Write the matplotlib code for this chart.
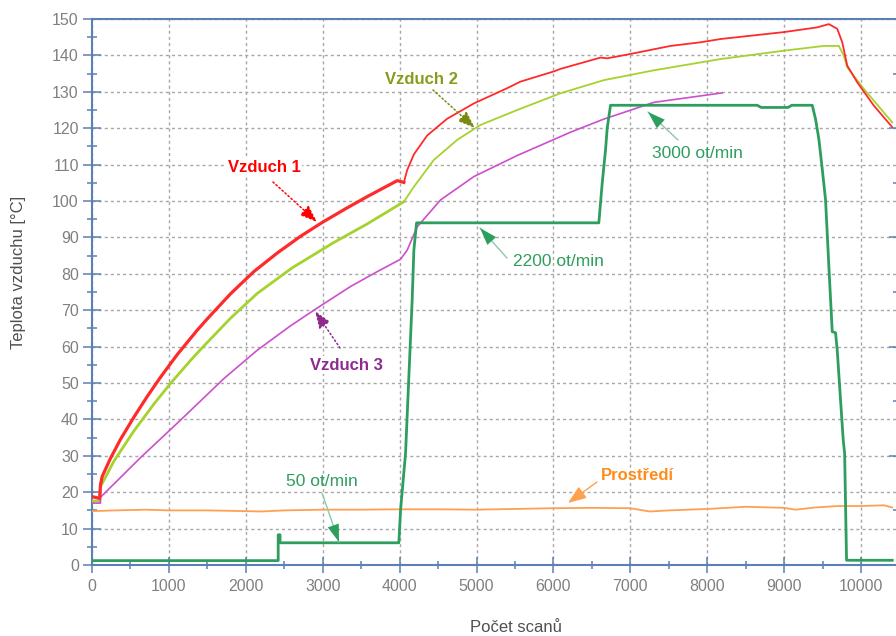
import matplotlib
matplotlib.use("Agg")
import matplotlib.pyplot as plt
from matplotlib.ticker import MultipleLocator

plt.rcParams['font.family'] = ['Liberation Sans', 'DejaVu Sans']

# ---------------- data ----------------
x_v1 = [0, 100, 110, 132, 240, 370, 544, 718, 891, 1108, 1368, 1498, 1801, 2104, 2408, 2711,
        3000, 3300, 3578, 3969, 4055, 4098, 4185, 4358, 4618, 4965, 5399, 5572, 6005, 6092,
        6612, 6699, 7002, 7522, 7913, 8173, 8996, 9430, 9581, 9690, 9755, 9820, 9950, 10166, 10405]
y_v1 = [18.8, 18.3, 22.0, 24.3, 29.3, 34.5, 40.6, 46.3, 51.6, 57.8, 64.5, 67.6, 74.5, 80.6, 85.7, 90.3,
        94.2, 97.9, 101.2, 105.6, 105.1, 108.5, 112.8, 118.0, 122.6, 126.8, 131.0, 132.8, 135.6, 136.3,
        139.4, 139.2, 140.4, 142.6, 143.6, 144.5, 146.4, 147.7, 148.6, 147.3, 143.6, 137.2, 132.6, 126.2, 120.3]
v1_split = 4055

x_v2 = [0, 100, 110, 132, 284, 544, 804, 1021, 1281, 1411, 1801, 2148, 2600, 3144, 3578, 4055,
        4185, 4445, 4749, 5052, 5529, 6092, 6655, 7306, 8173, 8996, 9516, 9711, 9776, 9820, 10036, 10405]
y_v2 = [17.6, 17.6, 21.5, 22.4, 28.5, 36.8, 44.2, 49.9, 56.2, 59.2, 67.8, 74.6, 81.6, 88.6, 93.7, 99.8,
        103.9, 111.3, 116.8, 120.9, 125.0, 129.6, 133.2, 135.9, 139.0, 141.3, 142.6, 142.6, 139.9, 136.7, 130.8, 121.6]
v2_split = 4055

x_v3 = [0, 110, 110, 631, 1151, 1714, 2148, 2581, 2928, 3361, 3700, 4012, 4098, 4228, 4532,
        4965, 5529, 6092, 6222, 6655, 7306, 8195]
y_v3 = [17.0, 17.0, 18.6, 29.5, 39.8, 51.2, 59.0, 65.7, 70.6, 76.5, 80.5, 84.0, 86.5, 92.9, 100.3,
        106.7, 112.5, 117.7, 118.9, 122.5, 127.1, 129.7]

x_rpm = [0, 2421, 2421, 2445, 2445, 3990, 4012, 4077, 4163, 4185, 4220, 6590, 6634, 6677, 6699, 6742,
         8650, 8700, 9050, 9100, 9365, 9408, 9451, 9495, 9538, 9581, 9625, 9668, 9690, 9733, 9768,
         9786, 9811, 10405]
y_rpm = [1.2, 1.2, 8.3, 8.3, 6.1, 6.1, 15.1, 30.7, 72.8, 86.5, 94.0, 94.0, 104.9, 114.0, 120.0, 126.3,
         126.3, 125.7, 125.7, 126.3, 126.3, 122.5, 117.0, 108.8, 100.3, 82.0, 64.1, 63.8, 59.0, 45.3, 34.3,
         30.7, 1.3, 1.3]

x_env = [0, 300, 700, 1000, 1500, 2000, 2200, 2500, 3000, 3500, 4000, 4500, 5000, 5500, 6000, 6500,
         7000, 7250, 7500, 8000, 8500, 9000, 9150, 9400, 9700, 10000, 10300, 10405]
y_env = [14.8, 15.0, 15.2, 15.0, 15.0, 14.8, 14.7, 15.0, 15.2, 15.2, 15.3, 15.3, 15.2, 15.4, 15.6, 15.7,
         15.6, 14.7, 15.0, 15.4, 16.0, 15.7, 15.2, 15.8, 16.2, 16.2, 16.4, 15.8]

x_ticks = [0, 1000, 2000, 3000, 4000, 5000, 6000, 7000, 8000, 9000, 10000]
y_ticks = [0, 10, 20, 30, 40, 50, 60, 70, 80, 90, 100, 110, 120, 130, 140, 150]

# ---------------- style ----------------
SPINE = '#5b80b4'
TICKLAB = '#808080'
C_V1, C_V1T = '#ff2a2a', '#ff0000'
C_V2, C_V2T = '#a6d22e', '#8a9a1a'
C_V3, C_V3T = '#cc4fcc', '#8e2a8e'
C_RPM = '#2e9e5e'
C_RPMA = '#8ccaa5'
C_ENV, C_ENVT = '#ffa050', '#ff8c1a'

fig = plt.figure(figsize=(8.96, 6.36), dpi=100)
ax = fig.add_axes([92/896, 1-565/636, (898-92)/896, (565-19)/636])
ax.set_xlim(0, 10480)
ax.set_ylim(0, 150)

ax.grid(True, which='major', color='#a8a8a8', linestyle=(0, (2.2, 2.2)), linewidth=1.0)
ax.set_axisbelow(True)

def split(xs, ys, xs0):
    i = xs.index(xs0)
    return xs[:i+1], ys[:i+1], xs[i:], ys[i:]

a1, b1, a2, b2 = split(x_v1, y_v1, v1_split)
ax.plot(a1, b1, color=C_V1, lw=2.3, zorder=4, solid_joinstyle='round')
ax.plot(a2, b2, color=C_V1, lw=1.3, zorder=4)
a1, b1, a2, b2 = split(x_v2, y_v2, v2_split)
ax.plot(a1, b1, color=C_V2, lw=2.0, zorder=3, solid_joinstyle='round')
ax.plot(a2, b2, color=C_V2, lw=1.3, zorder=3)
ax.plot(x_v3, y_v3, color=C_V3, lw=1.2, zorder=3)
ax.plot(x_env, y_env, color=C_ENV, lw=1.3, zorder=3)
ax.plot(x_rpm, y_rpm, color=C_RPM, lw=2.0, zorder=5)

for s in ['left', 'bottom', 'top', 'right']:
    ax.spines[s].set_color(SPINE)
    ax.spines[s].set_linewidth(1.5)

ax.set_xticks(x_ticks)
ax.set_yticks(y_ticks)
ax.xaxis.set_minor_locator(MultipleLocator(500))
ax.yaxis.set_minor_locator(MultipleLocator(5))
ax.tick_params(axis='y', which='major', direction='inout', length=13, width=1.1, color=SPINE,
               labelsize=11.5, labelcolor=TICKLAB, pad=3)
ax.tick_params(axis='y', which='minor', direction='inout', length=7.5, width=1.1, color=SPINE)
ax.tick_params(axis='x', which='major', direction='inout', length=11.5, width=1.1, color=SPINE,
               labelsize=11.5, labelcolor=TICKLAB, pad=4)
ax.tick_params(axis='x', which='minor', direction='inout', length=6, width=1.1, color=SPINE)

ax2 = ax.twinx()
ax2.set_ylim(0, 150)
ax2.set_yticks([0, 30, 60, 90, 120, 150])
ax2.yaxis.set_minor_locator(MultipleLocator(15))
ax2.set_yticklabels([])
ax2.tick_params(axis='y', which='major', direction='inout', length=13, width=1.1, color=SPINE)
ax2.tick_params(axis='y', which='minor', direction='inout', length=7.5, width=1.1, color=SPINE)
for s in ax2.spines.values():
    s.set_visible(False)
ax2.spines['right'].set_visible(True)
ax2.spines['right'].set_color(SPINE)
ax2.spines['right'].set_linewidth(1.5)

fig.text(18/896, 1-272/636, 'Teplota vzduchu [°C]', rotation=90, ha='center', va='center',
         fontsize=12, color='#505050')
fig.text(516/896, 1-627/636, 'Počet scanů', ha='center', va='center', fontsize=12, color='#505050')

bb = dict(boxstyle='square,pad=0.1', fc='white', ec='none')

def px(xp, yp):
    return ((xp - 92) / 806 * 10480, (565 - yp) / 546 * 150)

# Vzduch labels with dotted arrows
ax.annotate('', xy=px(317, 222), xytext=px(273, 182),
            arrowprops=dict(arrowstyle='-|>,head_width=0.3,head_length=0.8', color=C_V1T, lw=1.1,
                            linestyle=':', mutation_scale=13, shrinkA=0, shrinkB=0), zorder=6)
ax.text(*px(264, 167), 'Vzduch 1', ha='center', va='center', fontsize=12, fontweight='bold',
        color=C_V1T, bbox=bb, zorder=6)
ax.annotate('', xy=px(475, 128), xytext=px(433, 90),
            arrowprops=dict(arrowstyle='-|>,head_width=0.3,head_length=0.8', color='#7a8a10', lw=1.1,
                            linestyle=':', mutation_scale=13, shrinkA=0, shrinkB=0), zorder=6)
ax.text(*px(421, 80), 'Vzduch 2', ha='center', va='center', fontsize=12, fontweight='bold',
        color=C_V2T, bbox=bb, zorder=6)
ax.annotate('', xy=px(315, 311), xytext=px(340, 348),
            arrowprops=dict(arrowstyle='-|>,head_width=0.3,head_length=0.8', color=C_V3T, lw=1.1,
                            linestyle=':', mutation_scale=13, shrinkA=0, shrinkB=0), zorder=6)
ax.text(*px(346, 365), 'Vzduch 3', ha='center', va='center', fontsize=12, fontweight='bold',
        color=C_V3T, bbox=bb, zorder=6)

# rpm labels
for txt, tip, tail, cen in [('50 ot/min', (339, 542), (322, 493), (322, 482)),
                            ('2200 ot/min', (480, 228), (507, 258), (558, 262)),
                            ('3000 ot/min', (648, 112), (678, 140), (697, 153))]:
    ax.annotate('', xy=px(*tip), xytext=px(*tail),
                arrowprops=dict(arrowstyle='-', color=C_RPMA, lw=1.0, shrinkA=0, shrinkB=0), zorder=6)
    ax.annotate('', xy=px(*tip), xytext=px(tip[0] + (tail[0]-tip[0])*0.3, tip[1] + (tail[1]-tip[1])*0.3),
                arrowprops=dict(arrowstyle='-|>,head_width=0.3,head_length=0.9', color=C_RPM, lw=0.0,
                                mutation_scale=14, shrinkA=0, shrinkB=0), zorder=6)
    ax.text(*px(*cen), txt, ha='center', va='center', fontsize=12.5, color=C_RPM, zorder=6)

ax.annotate('', xy=px(568, 503), xytext=px(597, 482),
            arrowprops=dict(arrowstyle='-|>,head_width=0.3,head_length=0.8', color=C_ENV, lw=1.0,
                            mutation_scale=14, shrinkA=0, shrinkB=0), zorder=6)
ax.text(*px(637, 475), 'Prostředí', ha='center', va='center', fontsize=12, fontweight='bold',
        color=C_ENVT, zorder=6)

fig.savefig('out.png', dpi=100)
